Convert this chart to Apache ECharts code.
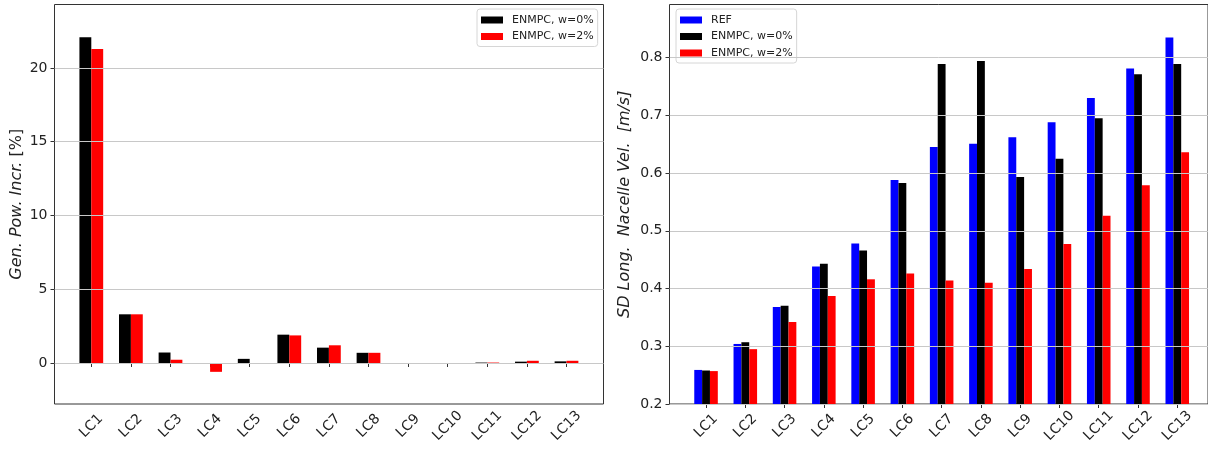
<!DOCTYPE html>
<html>
<head>
<meta charset="utf-8">
<script src="https://cdn.jsdelivr.net/npm/echarts@6/dist/echarts.min.js"></script>
<style>
html,body{margin:0;padding:0;background:#fff;}
#chart{width:1208px;height:451px;}
</style>
</head>
<body>
<div id="chart"></div>
<script>
// ---- data ----
const categories = ['LC1','LC2','LC3','LC4','LC5','LC6','LC7','LC8','LC9','LC10','LC11','LC12','LC13'];
const powW0 = [22.08, 3.30, 0.71, -0.05, 0.28, 1.92, 1.04, 0.69, -0.05, 0.00, 0.03, 0.09, 0.11];
const powW2 = [21.29, 3.30, 0.22, -0.60, 0.00, 1.87, 1.20, 0.69, -0.06, 0.00, 0.03, 0.15, 0.15];
const velRef = [0.259, 0.304, 0.368, 0.438, 0.478, 0.588, 0.645, 0.651, 0.662, 0.688, 0.730, 0.781, 0.835];
const velW0  = [0.258, 0.307, 0.370, 0.443, 0.466, 0.583, 0.789, 0.794, 0.593, 0.625, 0.695, 0.771, 0.789];
const velW2  = [0.257, 0.295, 0.342, 0.387, 0.416, 0.426, 0.414, 0.410, 0.434, 0.477, 0.526, 0.579, 0.636];
const powTicks = [0, 5, 10, 15, 20];
const velTicks = [0.2, 0.3, 0.4, 0.5, 0.6, 0.7, 0.8];
const powRange = [-2.78, 24.3];
const velRange = [0.2, 0.892];
const nameW0 = 'ENMPC, w=0%';
const nameW2 = 'ENMPC, w=2%';
const nameRef = 'REF';

const FONT = 'DejaVu Sans';
const TXT = '#222';
const FRAME = '#333';
const GRIDC = '#c8c8c8';

const chart = echarts.init(document.getElementById('chart'), null, {renderer:'canvas'});

function frameY(gridIndex, range, ticks, name, nameGap, decimals, rich) {
  return {
    type:'value', gridIndex, min:range[0], max:range[1], position:'left', z:5,
    axisLine:{show:false},
    axisTick:{show:true, inside:false, length:4, lineStyle:{color:FRAME}, customValues:ticks},
    axisLabel:{show:true, margin:7, fontSize:14, fontFamily:FONT, color:TXT, customValues:ticks,
      formatter:(v)=> decimals ? v.toFixed(decimals) : String(Math.round(v))},
    splitLine:{show:true, lineStyle:{color:GRIDC, width:1}},
    name:name, nameLocation:'middle', nameGap:nameGap, nameRotate:90,
    nameTextStyle:Object.assign({fontSize:16, fontFamily:FONT, color:TXT}, rich)
  };
}
function hiddenY(gridIndex, range) {
  return {type:'value', gridIndex, min:range[0], max:range[1], show:false, splitLine:{show:false}};
}
function hiddenX(gridIndex) {
  return {type:'value', gridIndex, min:0, max:1, show:false, splitLine:{show:false}};
}
function catX(gridIndex) {
  return {
    type:'category', gridIndex, data:categories, position:'bottom', boundaryGap:true,
    axisLine:{show:false},
    axisTick:{show:true, alignWithLabel:true, inside:false, length:4, lineStyle:{color:FRAME}},
    axisLabel:{show:true, interval:0, rotate:45, align:'center', verticalAlign:'middle',
      margin:22, fontSize:14, fontFamily:FONT, color:TXT},
    splitLine:{show:false}
  };
}
function bars(name, data, color, xi, yi, w) {
  return {name, type:'bar', data, xAxisIndex:xi, yAxisIndex:yi, barWidth:w, barGap:'0%',
    itemStyle:{color}, z:2, silent:true, animation:false};
}

const legendCommon = {
  orient:'vertical', icon:'rect', itemWidth:22, itemHeight:7, itemGap:4.5,
  padding:[5,4,4,4], backgroundColor:'rgba(255,255,255,0.85)', borderColor:'#d6d6d6',
  borderWidth:1, borderRadius:3,
  textStyle:{fontSize:11, fontFamily:FONT, color:TXT, lineHeight:12, padding:[0,0,0,4]}
};

const option = {
  animation:false,
  backgroundColor:'#fff',
  grid:[
    {left:54.5, top:4.5, width:549, height:399.5, show:true, borderColor:FRAME, borderWidth:1, backgroundColor:'transparent'},
    {left:71.5, top:4.5, width:514.8, height:399.5, show:false},
    {left:669.5, top:4.5, width:543.5, height:399.5, show:true, borderColor:FRAME, borderWidth:1, backgroundColor:'transparent'},
    {left:686.4, top:4.5, width:510.5, height:399.5, show:false}
  ],
  xAxis:[hiddenX(0), catX(1), hiddenX(2), catX(3)],
  yAxis:[
    frameY(0, powRange, powTicks, '{i|Gen. Pow. Incr.} [%]', 30, 0,
      {rich:{i:{fontSize:16, fontFamily:FONT, color:TXT, fontStyle:'italic'}}}),
    hiddenY(1, powRange),
    frameY(2, velRange, velTicks, 'SD Long.  Nacelle Vel.  [m/s]', 37, 1, {fontStyle:'italic'}),
    hiddenY(3, velRange)
  ],
  legend:[
    Object.assign({}, legendCommon, {left:477, top:9, data:[nameW0, nameW2]}),
    Object.assign({}, legendCommon, {left:676, top:9, data:[nameRef, nameW0, nameW2]})
  ],
  series:[
    bars(nameW0, powW0, '#000000', 1, 1, 11.88),
    bars(nameW2, powW2, '#ff0000', 1, 1, 11.88),
    bars(nameRef, velRef, '#0000ff', 3, 3, 7.85),
    bars(nameW0, velW0, '#000000', 3, 3, 7.85),
    bars(nameW2, velW2, '#ff0000', 3, 3, 7.85)
  ]
};
chart.setOption(option);
</script>
</body>
</html>
